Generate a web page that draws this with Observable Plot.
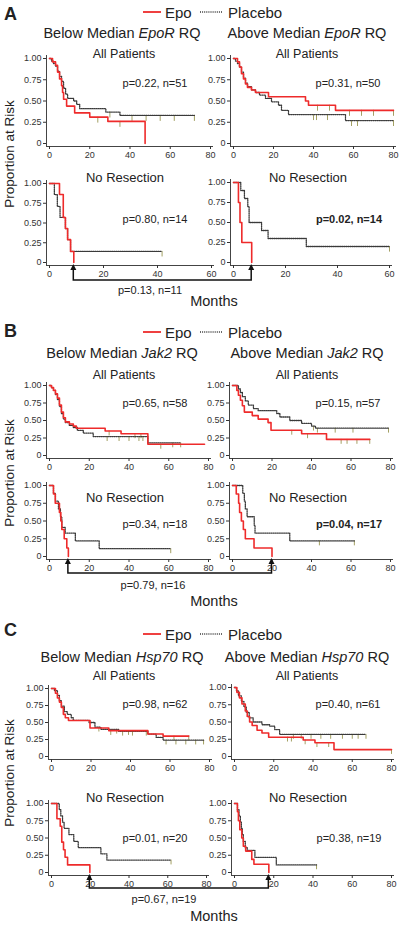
<!DOCTYPE html>
<html><head><meta charset="utf-8">
<script src="https://cdn.jsdelivr.net/npm/d3@7"></script>
<script src="https://cdn.jsdelivr.net/npm/@observablehq/plot@0.6"></script>
<style>
body{margin:0;background:#fff;}
#root{position:relative;width:400px;height:928px;font-family:"Liberation Sans",Arial,sans-serif;color:#222;overflow:hidden;background:#fff}
.t{position:absolute;white-space:nowrap;line-height:1}
</style></head><body><div id="root"></div>
<script>
// ---------- Kaplan–Meier steps: [months, proportion at risk] ----------
// Panel A (EpoR)
const aBelowAllEpo = [[0,1],[1.5,0.96],[3,0.92],[4,0.84],[5,0.76],[6,0.68],[6.5,0.6],[7,0.52],[8.5,0.44],[12.5,0.36],[20,0.31],[29,0.26],[47.5,0]];
const aBelowAllPla = [[0,1],[1,0.97],[2,0.94],[3,0.91],[4,0.85],[5,0.79],[6,0.73],[7,0.65],[8,0.58],[9,0.53],[12,0.5],[13.5,0.46],[15,0.41],[28,0.37],[35,0.33],[72,0.33]];
const aAboveAllEpo = [[0,1],[2,0.96],[3,0.9],[4,0.82],[5,0.76],[6,0.7],[7,0.66],[9,0.63],[11,0.6],[17.5,0.55],[36,0.5],[37.5,0.45],[51,0.39],[80,0.39]];
const aAboveAllPla = [[0,1],[1,0.97],[2,0.94],[3,0.9],[4,0.84],[5,0.77],[6,0.71],[7,0.67],[9,0.63],[11,0.6],[13,0.57],[16,0.53],[19,0.49],[22.5,0.45],[24,0.39],[27.5,0.34],[56,0.27],[80,0.27]];
const aBelowNoResEpo = [[0,1],[3.7,0.86],[5.1,0.57],[5.9,0.43],[6.7,0.29],[7.8,0.14],[9,0]];
const aBelowNoResPla = [[0,1],[1.8,0.86],[2.9,0.71],[3.9,0.57],[5.9,0.43],[6.7,0.29],[7.8,0.14],[41.7,0.14]];
const aAboveNoResEpo = [[0,1],[1.9,0.75],[2.5,0.5],[3.2,0.25],[7,0]];
const aAboveNoResPla = [[0,1],[2.8,0.9],[4.2,0.8],[5.5,0.7],[6,0.5],[10.8,0.4],[13.3,0.3],[28,0.2],[60,0.2]];
// Panel B (Jak2)
const bBelowAllEpo = [[0,1],[1,0.97],[2,0.93],[3,0.88],[4,0.82],[5,0.72],[6,0.62],[7,0.54],[8,0.48],[10,0.45],[12,0.42],[13.5,0.39],[28,0.35],[36,0.31],[49.5,0.16],[78,0.16]];
const bBelowAllPla = [[0,1],[1,0.97],[2,0.93],[3,0.87],[4,0.8],[5,0.7],[6,0.6],[7,0.52],[8,0.47],[10,0.43],[12,0.4],[14,0.36],[17,0.32],[22,0.27],[49.5,0.18],[66,0.18]];
const bAboveAllEpo = [[0,1],[2.2,0.93],[3,0.86],[4,0.79],[5,0.71],[6,0.62],[10,0.57],[13,0.52],[18,0.47],[19.5,0.36],[35,0.31],[47.6,0.23],[69.5,0.23]];
const bAboveAllPla = [[0,1],[3,0.95],[4,0.9],[5,0.84],[6.5,0.78],[8,0.72],[10.6,0.67],[13,0.64],[22.4,0.6],[24,0.55],[29,0.5],[35,0.46],[40,0.42],[42,0.39],[79,0.39]];
const bBelowNoResEpo = [[0,1],[2,0.88],[2.9,0.75],[5,0.62],[5.7,0.5],[6.2,0.38],[7.4,0.25],[8.7,0.12],[9.5,0]];
const bBelowNoResPla = [[0,1],[2,0.89],[3,0.78],[4.5,0.67],[5.5,0.56],[6.2,0.41],[7.9,0.33],[13,0.22],[25,0.11],[61,0.11]];
const bAboveNoResEpo = [[0,1],[1.9,0.88],[3.1,0.75],[3.6,0.62],[4.5,0.5],[5.5,0.38],[6.5,0.25],[10.9,0.12],[20,0]];
const bAboveNoResPla = [[0,1],[5.2,0.89],[6,0.78],[6.5,0.67],[7.4,0.56],[11,0.44],[11.4,0.33],[29,0.22],[61.7,0.22]];
// Panel C (Hsp70)
const cBelowAllEpo = [[0,1],[2,0.93],[3,0.86],[4,0.8],[5,0.72],[6,0.62],[7,0.57],[8.6,0.53],[19.5,0.42],[29,0.38],[48.8,0.33],[56.5,0.3],[69.5,0.3]];
const cBelowAllPla = [[0,1],[1.5,0.97],[3,0.9],[4,0.82],[5,0.74],[6.5,0.66],[8,0.62],[10,0.57],[11,0.53],[19,0.5],[22,0.43],[25,0.4],[34,0.37],[48.8,0.33],[53,0.28],[56.5,0.24],[77,0.24]];
const cAboveAllEpo = [[0,1],[1.2,0.93],[2.5,0.85],[3.8,0.76],[5.5,0.66],[6.5,0.58],[7.7,0.5],[9,0.45],[11.5,0.38],[14,0.34],[17.4,0.28],[35,0.24],[41,0.2],[50.7,0.1],[80,0.1]];
const cAboveAllPla = [[0,1],[1,0.95],[2,0.88],[3.5,0.8],[4.8,0.72],[6,0.64],[7.5,0.56],[9.5,0.5],[14,0.46],[18,0.44],[20.5,0.39],[23,0.32],[67,0.32]];
const cBelowNoResEpo = [[0,1],[2.8,0.78],[4.5,0.67],[5.3,0.44],[6.2,0.33],[7,0.22],[8.3,0.11],[19.8,0]];
const cBelowNoResPla = [[0,1],[4,0.91],[4.8,0.82],[5.7,0.73],[6.5,0.64],[9,0.55],[11.5,0.45],[13.8,0.36],[25.5,0.27],[28.6,0.18],[61.7,0.18]];
const cAboveNoResEpo = [[0,1],[1.5,0.88],[2,0.75],[2.7,0.62],[3.7,0.5],[4.5,0.38],[5.7,0.31],[8.8,0.19],[9.9,0.12],[17.5,0]];
const cAboveNoResPla = [[0,1],[1.5,0.91],[2.3,0.82],[3,0.73],[3.5,0.64],[4,0.55],[4.5,0.45],[5.5,0.36],[6.5,0.32],[10.4,0.22],[21.3,0.11],[41.8,0.11]];

// ---------- censoring times (months) ----------
const aBelowAllEpoCens = [24, 35];
const aBelowAllPlaCens = [30, 41, 48, 55, 62, 72];
const aAboveAllEpoCens = [42, 48, 58, 64, 70, 80];
const aAboveAllPlaCens = [40, 41.5, 47, 59, 62, 80];
const aBelowNoResPlaCens = [41.7];
const aAboveNoResPlaCens = [60];
const bBelowAllEpoCens = [30, 43, 46, 56];
const bBelowAllPlaCens = [29, 35, 40, 45, 47, 62, 66];
const bAboveAllEpoCens = [30, 38, 55, 58, 63, 69.5];
const bAboveAllPlaCens = [41, 43, 52, 61, 79];
const bBelowNoResPlaCens = [61];
const bAboveNoResPlaCens = [44, 61.7];
const cBelowAllEpoCens = [30, 39, 62, 69.5];
const cBelowAllPlaCens = [24, 33, 36, 41, 48, 58, 63, 68, 73, 77];
const cAboveAllEpoCens = [27, 29, 36, 42, 48, 80];
const cAboveAllPlaCens = [30, 34, 39, 44, 49, 55, 60, 63, 67];
const cBelowNoResPlaCens = [61.7];
const cAboveNoResPlaCens = [41.8];

// ---------- medians joined by the brackets (months) ----------
const aBracket = [9, 7];
const bBracket = [9.5, 20];
const cBracket = [19.8, 17.5];

// ---------- texts ----------
const seriesNames = ["Epo", "Placebo"];
const genes = ["EpoR", "Jak2", "Hsp70"];
const panelLetters = ["A", "B", "C"];
const subsetNames = ["All Patients", "No Resection"];
const aStats = ["p=0.22, n=51", "p=0.31, n=50", "p=0.80, n=14", "p=0.02, n=14", "p=0.13, n=11"];
const bStats = ["p=0.65, n=58", "p=0.15, n=57", "p=0.34, n=18", "p=0.04, n=17", "p=0.79, n=16"];
const cStats = ["p=0.98, n=62", "p=0.40, n=61", "p=0.01, n=20", "p=0.38, n=19", "p=0.67, n=19"];
const boldStats = ["p=0.02, n=14", "p=0.04, n=17"];
const xTicks80 = [0, 20, 40, 60, 80];
const xTicks60 = [0, 20, 40, 60];
const yTicks = [0, 0.25, 0.5, 0.75, 1];

// ---------- styling / layout ----------
const RED = "#ee2b2b", DOT = "#3a3a3a", CENS = "#a3a064", AXIS = "#444", DASH = "1,1.1";
const root = document.getElementById("root");

function label(html, x, y, o = {}) {
  const d = document.createElement("div");
  d.className = "t";
  d.innerHTML = html;
  d.style.left = x + "px"; d.style.top = y + "px";
  d.style.fontSize = (o.size || 12) + "px";
  d.style.fontWeight = o.weight || "normal";
  const tx = o.anchor === "start" ? "0" : o.anchor === "end" ? "-100%" : "-50%";
  d.style.transform = `translate(${tx},-50%)` + (o.rotate ? ` rotate(${o.rotate}deg)` : "");
  root.appendChild(d);
  return d;
}

function survAt(curve, t) {
  let s = curve[0][1];
  for (const [ti, si] of curve) if (ti <= t) s = si;
  return s;
}

function makePlot(g, epo, pla, epoC, plaC) {
  const mL = 30, mR = 8, mT = 2, mB = 16, ins = 3;
  const width = mL + ins + (g.x1 - g.x0) + ins + mR;
  const height = mT + ins + (g.yBot - g.yTop) + ins + mB;
  const cens = [
    ...epoC.map(t => ({t, s: survAt(epo, t)})),
    ...plaC.map(t => ({t, s: survAt(pla, t)}))
  ];
  const plot = Plot.plot({
    width, height,
    marginLeft: mL, marginRight: mR, marginTop: mT, marginBottom: mB,
    style: {fontFamily: '"Liberation Sans", Arial, sans-serif', fontSize: "9px", background: "transparent", overflow: "visible", color: "#333"},
    x: {domain: [0, g.max], insetLeft: ins, insetRight: ins},
    y: {domain: [0, 1], insetTop: ins, insetBottom: ins},
    marks: [
      Plot.ruleX([0], {dx: -ins, stroke: AXIS, strokeWidth: 1}),
      Plot.ruleY([0], {dy: ins, stroke: AXIS, strokeWidth: 1}),
      Plot.axisX({ticks: g.max === 60 ? xTicks60 : xTicks80, tickSize: 3, tickPadding: 2, label: null, color: "#333"}),
      Plot.axisY({ticks: yTicks, tickSize: 3, tickPadding: 2, label: null, color: "#333",
        tickFormat: v => v === 0 ? "0" : v.toFixed(2)}),
      Plot.ruleX(cens, {x: "t", y1: "s", y2: d => d.s - 0.07, stroke: CENS, strokeWidth: 1}),
      Plot.line(pla, {x: d => d[0], y: d => d[1], curve: "step-after", stroke: DOT, strokeWidth: 1.3, strokeDasharray: DASH}),
      Plot.line(epo, {x: d => d[0], y: d => d[1], curve: "step-after", stroke: RED, strokeWidth: 1.6})
    ]
  });
  const left = g.x0 - mL - ins, top = g.yTop - mT - ins;
  plot.style.position = "absolute";
  plot.style.left = left + "px";
  plot.style.top = top + "px";
  root.appendChild(plot);
  return {plot, left, top, height, mB};
}

const overlay = d3.create("svg").attr("width", 400).attr("height", 928)
  .style("position", "absolute").style("left", 0).style("top", 0).style("pointer-events", "none");

function bracket(L, R, tL, tR, yB) {
  const xL = L.left + L.plot.scale("x").apply(tL);
  const yL = L.top + L.height - L.mB;
  const xR = R.left + R.plot.scale("x").apply(tR);
  const yR = R.top + R.height - R.mB;
  overlay.append("path").attr("d", `M${xL},${yL + 3}V${yB}H${xR}V${yR + 3}`)
    .attr("fill", "none").attr("stroke", "#111").attr("stroke-width", 1.5);
  for (const [x, y] of [[xL, yL], [xR, yR]]) {
    overlay.append("path").attr("d", `M${x},${y - 1}L${x - 3},${y + 5}L${x + 3},${y + 5}Z`).attr("fill", "#111");
  }
}

const panels = [
  {curves: [aBelowAllEpo, aBelowAllPla, aAboveAllEpo, aAboveAllPla, aBelowNoResEpo, aBelowNoResPla, aAboveNoResEpo, aAboveNoResPla],
   cens: [aBelowAllEpoCens, aBelowAllPlaCens, aAboveAllEpoCens, aAboveAllPlaCens, [], aBelowNoResPlaCens, [], aAboveNoResPlaCens],
   stats: aStats, br: aBracket,
   lay: {letterY: 14, legendY: 12, subY: 33, apY: 54, pTopY: 83, nrY: 177, pBotY: 219, brY: 280, brTextY: 290, brTextX: 150, monthsY: 301, ylabY: 154},
   geo: [{x0: 49, x1: 210, yTop: 58, yBot: 143, max: 80}, {x0: 233, x1: 393, yTop: 58, yBot: 143, max: 80},
         {x0: 49, x1: 211, yTop: 183, yBot: 262, max: 60}, {x0: 233, x1: 389, yTop: 182, yBot: 262, max: 60}]},
  {curves: [bBelowAllEpo, bBelowAllPla, bAboveAllEpo, bAboveAllPla, bBelowNoResEpo, bBelowNoResPla, bAboveNoResEpo, bAboveNoResPla],
   cens: [bBelowAllEpoCens, bBelowAllPlaCens, bAboveAllEpoCens, bAboveAllPlaCens, [], bBelowNoResPlaCens, [], bAboveNoResPlaCens],
   stats: bStats, br: bBracket,
   lay: {letterY: 331, legendY: 332, subY: 353, apY: 375, pTopY: 403, nrY: 497, pBotY: 524, brY: 573, brTextY: 585, brTextX: 153, monthsY: 601, ylabY: 473},
   geo: [{x0: 49, x1: 208, yTop: 385, yBot: 455, max: 80}, {x0: 232, x1: 390, yTop: 385, yBot: 455, max: 80},
         {x0: 49, x1: 208, yTop: 485, yBot: 556, max: 80}, {x0: 232, x1: 390, yTop: 485, yBot: 556, max: 80}]},
  {curves: [cBelowAllEpo, cBelowAllPla, cAboveAllEpo, cAboveAllPla, cBelowNoResEpo, cBelowNoResPla, cAboveNoResEpo, cAboveNoResPla],
   cens: [cBelowAllEpoCens, cBelowAllPlaCens, cAboveAllEpoCens, cAboveAllPlaCens, [], cBelowNoResPlaCens, [], cAboveNoResPlaCens],
   stats: cStats, br: cBracket,
   lay: {letterY: 630, legendY: 634, subY: 657, apY: 676, pTopY: 704, nrY: 797, pBotY: 838, brY: 888, brTextY: 899, brTextX: 164, monthsY: 916, ylabY: 773},
   geo: [{x0: 51, x1: 209, yTop: 688, yBot: 756, max: 80}, {x0: 234, x1: 391, yTop: 687, yBot: 756, max: 80},
         {x0: 51, x1: 206, yTop: 803, yBot: 872, max: 80}, {x0: 234, x1: 391, yTop: 803, yBot: 872, max: 80}]}
];

panels.forEach((p, i) => {
  const L = p.lay;
  const plots = p.geo.map((g, k) => makePlot(g, p.curves[2 * k], p.curves[2 * k + 1], p.cens[2 * k], p.cens[2 * k + 1]));
  bracket(plots[2], plots[3], p.br[0], p.br[1], L.brY);

  label(panelLetters[i], 4, L.letterY, {size: 18, weight: "bold", anchor: "start"});
  // legend
  const leg = d3.create("svg").attr("width", 90).attr("height", 10)
    .style("position", "absolute").style("left", "142px").style("top", (L.legendY - 5) + "px");
  leg.append("line").attr("x1", 1).attr("x2", 19).attr("y1", 5).attr("y2", 5).attr("stroke", RED).attr("stroke-width", 1.8);
  leg.append("line").attr("x1", 58).attr("x2", 80).attr("y1", 5).attr("y2", 5).attr("stroke", DOT).attr("stroke-width", 1.3).attr("stroke-dasharray", DASH);
  root.appendChild(leg.node());
  label(seriesNames[0], 165, L.legendY, {size: 15, anchor: "start"});
  label(seriesNames[1], 228, L.legendY, {size: 15, anchor: "start"});
  // subtitles
  label(`Below Median <i>${genes[i]}</i> RQ`, 122, L.subY, {size: 14.5});
  label(`Above Median <i>${genes[i]}</i> RQ`, 307, L.subY, {size: 14.5});
  label(subsetNames[0], 124, L.apY, {size: 12.5});
  label(subsetNames[0], 307, L.apY, {size: 12.5});
  label(subsetNames[1], 125, L.nrY, {size: 13});
  label(subsetNames[1], 308, L.nrY, {size: 13});
  const st = (s, x, y) => label(s, x, y, {size: 11, weight: boldStats.includes(s) ? "bold" : "normal"});
  st(p.stats[0], 155, L.pTopY);
  st(p.stats[1], 348, L.pTopY);
  st(p.stats[2], 155, L.pBotY);
  st(p.stats[3], 349, L.pBotY);
  st(p.stats[4], L.brTextX, L.brTextY);
  label("Months", 214, L.monthsY, {size: 14.5});
  label("Proportion at Risk", 10, L.ylabY, {size: 13.5, rotate: -90});
});

root.appendChild(overlay.node());
</script>
</body></html>
